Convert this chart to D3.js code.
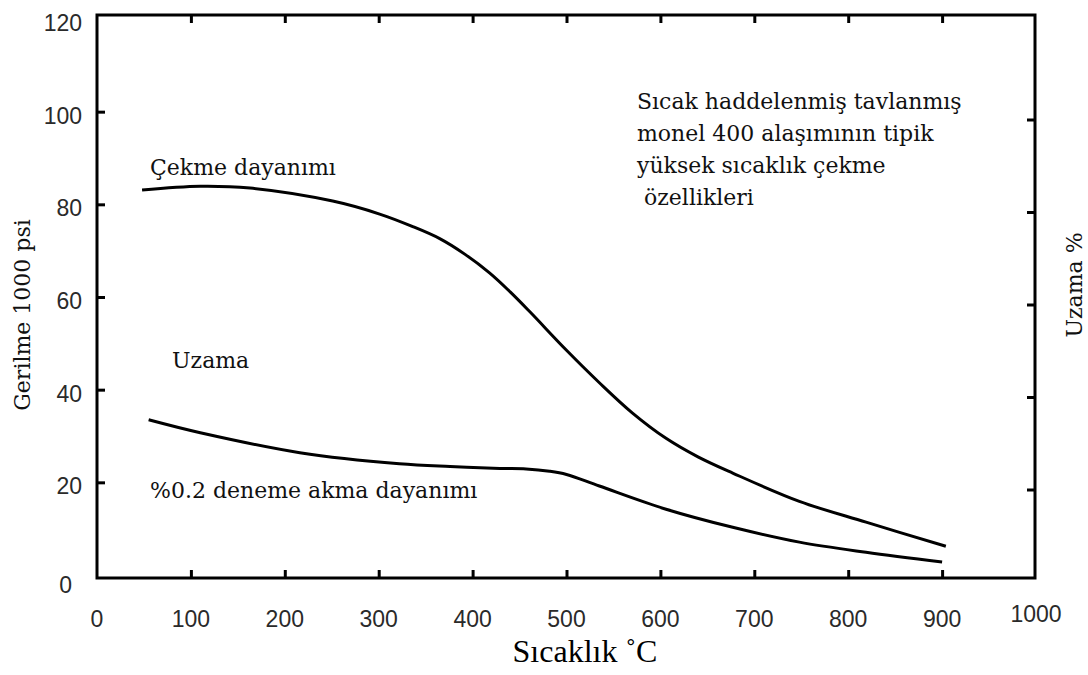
<!DOCTYPE html>
<html>
<head>
<meta charset="utf-8">
<script src="https://cdn.jsdelivr.net/npm/d3@7"></script>
<style>
  body { margin: 0; background: #fff; }
  svg { display: block; }
</style>
</head>
<body>
<svg id="chart" width="1088" height="675"></svg>
<script>
// tensile strength (Çekme dayanımı), 1000 psi
const tensileTemp = [48, 110, 163, 251, 301, 335, 365, 392, 418, 440, 461, 500, 535, 570, 606, 640, 677, 748, 819, 904];
const tensileVal  = [83.1, 83.9, 83.5, 80.7, 77.9, 75.3, 72.6, 69.2, 65.2, 61.1, 56.8, 48.5, 41.5, 35, 29.5, 25.5, 22, 15.9, 11.4, 6.2];

// %0.2 yield strength
const yieldTemp = [55, 110, 216, 322, 376, 429, 457, 482, 500, 535, 606, 677, 748, 819, 900];
const yieldVal  = [33.5, 30.7, 26.4, 24.0, 23.4, 23.0, 22.9, 22.4, 21.7, 19.2, 14.2, 10.3, 7.1, 4.9, 2.8];

const xTicks = [0, 100, 200, 300, 400, 500, 600, 700, 800, 900, 1000];
const yTicks = [0, 20, 40, 60, 80, 100, 120];
const elongTicks = [10, 20, 30, 40, 50];

const noteLines = ["Sıcak haddelenmiş tavlanmış", "monel 400 alaşımının tipik", "yüksek sıcaklık çekme", " özellikleri"];

const svg = d3.select("#chart");

const x = d3.scaleLinear().domain([0, 1000]).range([97, 1036]);
const y = d3.scaleLinear().domain([0, 120]).range([575, 19]);
const yElong = d3.scaleLinear().domain([0, 60]).range([582, 27]);

const tickFont = "Liberation Sans";
const labelFont = "DejaVu Serif";

// axes (ticks point inward)
const bottomAxis = svg.append("g")
  .attr("transform", `translate(0, ${y(0) + 3})`)
  .call(d3.axisBottom(x).tickValues(xTicks.slice(1, -1)).tickSize(-8).tickFormat(""));
const topAxis = svg.append("g")
  .attr("transform", `translate(0, ${y(120) - 4})`)
  .call(d3.axisTop(x).tickValues(xTicks.slice(1, -1)).tickSize(-8).tickFormat(""));
const leftAxis = svg.append("g")
  .attr("transform", `translate(${x(0)}, 0)`)
  .call(d3.axisLeft(y).tickValues(yTicks.slice(1, -1)).tickSize(-8).tickFormat(""));
const rightAxis = svg.append("g")
  .attr("transform", `translate(${x(1000) - 1}, 0)`)
  .call(d3.axisRight(yElong).tickValues(elongTicks).tickSize(-8).tickFormat(""));

[bottomAxis, topAxis, leftAxis, rightAxis].forEach((g) => {
  g.select(".domain").remove();
  g.selectAll(".tick line").attr("stroke", "#000").attr("stroke-width", 3);
});

// tick labels
svg.append("g").selectAll("text")
  .data(xTicks)
  .join("text")
  .attr("x", (d) => x(d))
  .attr("y", (d) => y(0) + (d === 1000 ? 47 : 52))
  .attr("text-anchor", "middle")
  .attr("font-family", tickFont)
  .attr("font-size", 23)
  .attr("fill", "#2a2a2a")
  .text((d) => d);

svg.append("g").selectAll("text")
  .data(yTicks)
  .join("text")
  .attr("x", (d) => x(0) - (d === 0 ? 25 : 15))
  .attr("y", (d) => y(d) + (d === 0 ? 18 : 12))
  .attr("text-anchor", "end")
  .attr("font-family", tickFont)
  .attr("font-size", 23)
  .attr("fill", "#2a2a2a")
  .text((d) => d);

// frame
svg.append("rect")
  .attr("x", x(0))
  .attr("y", y(120) - 4)
  .attr("width", x(1000) - x(0) - 1)
  .attr("height", y(0) - y(120) + 7)
  .attr("fill", "none")
  .attr("stroke", "#000")
  .attr("stroke-width", 3);

// curves
const line = d3.line()
  .x((d) => x(d[0]))
  .y((d) => y(d[1]))
  .curve(d3.curveCatmullRom.alpha(0.5));

svg.append("path")
  .datum(d3.zip(tensileTemp, tensileVal))
  .attr("d", line)
  .attr("fill", "none")
  .attr("stroke", "#000")
  .attr("stroke-width", 3);

svg.append("path")
  .datum(d3.zip(yieldTemp, yieldVal))
  .attr("d", line)
  .attr("fill", "none")
  .attr("stroke", "#000")
  .attr("stroke-width", 3);

// labels
const label = (tx, ty, s) => svg.append("text")
  .attr("x", tx).attr("y", ty)
  .attr("font-family", labelFont)
  .attr("font-size", 22)
  .attr("fill", "#111")
  .text(s);

label(150, 175, "Çekme dayanımı");
label(172, 368, "Uzama");
label(150, 498, "%0.2 deneme akma dayanımı");

svg.append("g").selectAll("text")
  .data(noteLines)
  .join("text")
  .attr("x", 637)
  .attr("y", (d, i) => 109 + i * 32)
  .attr("font-family", labelFont)
  .attr("font-size", 22)
  .attr("fill", "#111")
  .attr("xml:space", "preserve")
  .style("white-space", "pre")
  .text((d) => d);

// axis titles
svg.append("text")
  .attr("x", 585).attr("y", 662)
  .attr("text-anchor", "middle")
  .attr("font-family", "Liberation Serif")
  .attr("font-size", 32)
  .attr("fill", "#000")
  .text("Sıcaklık ˚C");

svg.append("text")
  .attr("transform", "translate(30, 315) rotate(-90)")
  .attr("text-anchor", "middle")
  .attr("font-family", labelFont)
  .attr("font-size", 22)
  .attr("fill", "#111")
  .text("Gerilme 1000 psi");

svg.append("text")
  .attr("transform", "translate(1082, 285) rotate(-90)")
  .attr("text-anchor", "middle")
  .attr("font-family", labelFont)
  .attr("font-size", 22)
  .attr("fill", "#111")
  .text("Uzama %");
</script>
</body>
</html>
